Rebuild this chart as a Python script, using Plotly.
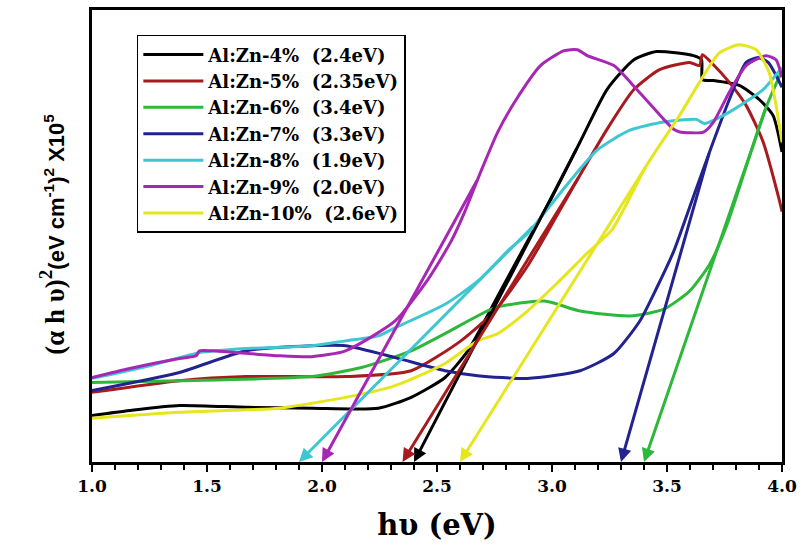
import numpy as np
import plotly.graph_objects as go

# Tauc plot data: photon energy (eV) vs (alpha h nu)^2 (x10^5, arbitrary scale)
labels = ["Al:Zn-4%&nbsp; (2.4eV)", "Al:Zn-5%&nbsp; (2.35eV)", "Al:Zn-6%&nbsp; (3.4eV)",
          "Al:Zn-7%&nbsp; (3.3eV)", "Al:Zn-8%&nbsp; (1.9eV)", "Al:Zn-9%&nbsp; (2.0eV)",
          "Al:Zn-10%&nbsp; (2.6eV)"]
colors = ["#000000", "#a81a1e", "#2db83a", "#23238f", "#3ec6d2", "#a727b5", "#e6e61e"]

# band gaps (arrow tips on the energy axis)
band_gap = [2.4, 2.35, 3.4, 3.3, 1.9, 2.0, 2.6]
# energy where each extrapolation line leaves its curve
tangent_from = [3.11, 3.12, 3.93, 3.685, 2.924, 2.677, 3.41]

x_4 = [1.000, 1.164, 1.380, 1.670, 1.955, 2.245, 2.388, 2.535, 2.634, 2.764, 2.893,
       3.001, 3.122, 3.239, 3.356, 3.455, 3.615, 3.650, 3.654, 3.702, 3.814, 3.901,
       3.961, 4.000]
y_4 = [1.03, 1.14, 1.25, 1.21, 1.19, 1.19, 1.43, 1.87, 2.46, 3.67, 4.88,
       5.87, 7.08, 8.24, 8.90, 9.08, 8.99, 8.90, 8.46, 8.44, 8.33, 8.02,
       7.67, 6.86]

x_5 = [1.000, 1.380, 1.670, 2.102, 2.388, 2.604, 2.751, 2.893, 3.023, 3.122, 3.239,
       3.356, 3.468, 3.598, 3.641, 3.654, 3.702, 3.771, 3.844, 3.918, 3.987, 4.000]
y_5 = [1.54, 1.80, 1.89, 1.89, 2.02, 2.68, 3.34, 4.33, 5.47, 6.35, 7.36,
       8.24, 8.68, 8.84, 8.77, 9.01, 8.79, 8.40, 7.89, 7.08, 5.82, 5.54]

x_6 = [1.000, 1.380, 1.955, 2.171, 2.388, 2.535, 2.751, 2.967, 3.122, 3.339, 3.486,
       3.598, 3.685, 3.758, 3.844, 3.931, 4.000]
y_6 = [1.76, 1.80, 1.89, 2.09, 2.46, 2.84, 3.41, 3.56, 3.34, 3.23, 3.38,
       3.78, 4.37, 5.21, 6.53, 7.85, 8.66]

x_7 = [1.000, 1.380, 1.670, 1.955, 2.102, 2.318, 2.535, 2.677, 2.893, 3.122, 3.269,
       3.382, 3.455, 3.529, 3.607, 3.685, 3.771, 3.844, 3.897, 3.940, 4.000]
y_7 = [1.58, 1.98, 2.46, 2.57, 2.57, 2.31, 2.02, 1.91, 1.85, 2.02, 2.40,
       3.12, 3.85, 4.66, 5.76, 6.86, 8.02, 8.84, 8.95, 8.84, 8.29]

x_8 = [1.000, 1.251, 1.467, 1.670, 1.955, 2.102, 2.245, 2.318, 2.535, 2.677, 2.820,
       2.893, 3.023, 3.196, 3.339, 3.486, 3.628, 3.663, 3.771, 3.918, 4.000]
y_8 = [1.85, 2.13, 2.42, 2.51, 2.57, 2.68, 2.79, 2.97, 3.49, 4.00, 4.73,
       5.05, 5.87, 6.90, 7.34, 7.52, 7.58, 7.49, 7.74, 8.24, 8.73]

x_9 = [1.000, 1.164, 1.380, 1.453, 1.467, 1.523, 1.813, 1.955, 2.102, 2.318, 2.461,
       2.561, 2.621, 2.690, 2.764, 2.837, 2.950, 3.053, 3.110, 3.153, 3.269, 3.369,
       3.486, 3.529, 3.555, 3.659, 3.702, 3.771, 3.844, 3.931, 3.974, 4.000]
y_9 = [1.87, 2.07, 2.29, 2.35, 2.46, 2.46, 2.35, 2.33, 2.46, 3.12, 4.04,
       4.88, 5.54, 6.42, 7.30, 7.96, 8.77, 9.10, 9.12, 8.99, 8.77, 8.24,
       7.58, 7.36, 7.30, 7.30, 7.52, 8.18, 8.77, 8.99, 8.90, 8.51]

x_10 = [1.000, 1.380, 1.813, 2.102, 2.318, 2.535, 2.677, 2.764, 2.893, 3.023, 3.153,
        3.261, 3.412, 3.555, 3.641, 3.728, 3.814, 3.888, 3.944, 3.974, 4.000]
y_10 = [0.97, 1.10, 1.19, 1.43, 1.69, 2.18, 2.68, 2.84, 3.34, 3.96, 4.62,
        5.14, 6.57, 7.67, 8.40, 9.05, 9.23, 9.12, 8.62, 7.89, 7.08]

xs = [x_4, x_5, x_6, x_7, x_8, x_9, x_10]
ys = [y_4, y_5, y_6, y_7, y_8, y_9, y_10]

fig = go.Figure()
for name, c, x, y in zip(labels, colors, xs, ys):
    fig.add_trace(go.Scatter(x=x, y=y, mode="lines", name=name,
                             line=dict(color=c, width=3, shape="spline",
                                       smoothing=0.6)))

# extrapolated linear parts down to the energy axis
notes = []
for c, x, y, eg, x0 in zip(colors, xs, ys, band_gap, tangent_from):
    y0 = float(np.interp(x0, x, y))
    notes.append(dict(x=eg, y=0, xref="x", yref="y", ax=x0, ay=y0,
                      axref="x", ayref="y", text="", showarrow=True,
                      arrowhead=2, arrowsize=0.9, arrowwidth=3, arrowcolor=c))

serif = "DejaVu Serif"
ytitle = ("<b>(α h υ)<sup>2</sup></b>"
          "<span style='font-family:Liberation Sans;font-weight:bold;font-size:22px'>"
          "(eV cm<sup>-1</sup>)<sup>2</sup> X10<sup>5</sup></span>")
notes.append(dict(x=-0.058, y=0.505, xref="paper", yref="paper", text=ytitle,
                  xanchor="center", yanchor="middle",
                  showarrow=False, textangle=-90,
                  font=dict(family="Liberation Serif", size=27, color="black")))

fig.update_layout(
    width=804, height=548,
    margin=dict(l=92, r=18, t=7, b=86),
    paper_bgcolor="white", plot_bgcolor="white",
    annotations=notes,
    showlegend=True,
    legend=dict(x=0.065, y=0.945, xanchor="left", yanchor="top",
                bgcolor="white", bordercolor="black", borderwidth=1.5,
                itemwidth=60,
                font=dict(family=serif, size=18, color="black", weight="bold"),
                tracegroupgap=0),
    xaxis=dict(range=[1.0, 4.0], dtick=0.5, tickformat=".1f",
               showgrid=False, zeroline=False,
               showline=True, linecolor="black", linewidth=2.5, mirror=True,
               ticks="outside", ticklen=7, tickwidth=2, tickcolor="black",
               minor=dict(dtick=0.1, ticks="outside", ticklen=5, tickwidth=2,
                          tickcolor="black", showgrid=False),
               tickfont=dict(family=serif, size=17, color="black", weight="bold"),
               title=dict(text="<b>hυ (eV)</b>", standoff=20,
                          font=dict(family=serif, size=29, color="black"))),
    yaxis=dict(range=[0, 10], showgrid=False, zeroline=False,
               showline=True, linecolor="black", linewidth=2.5, mirror=True,
               ticks="", showticklabels=False),
)

fig.write_html("out.html")
